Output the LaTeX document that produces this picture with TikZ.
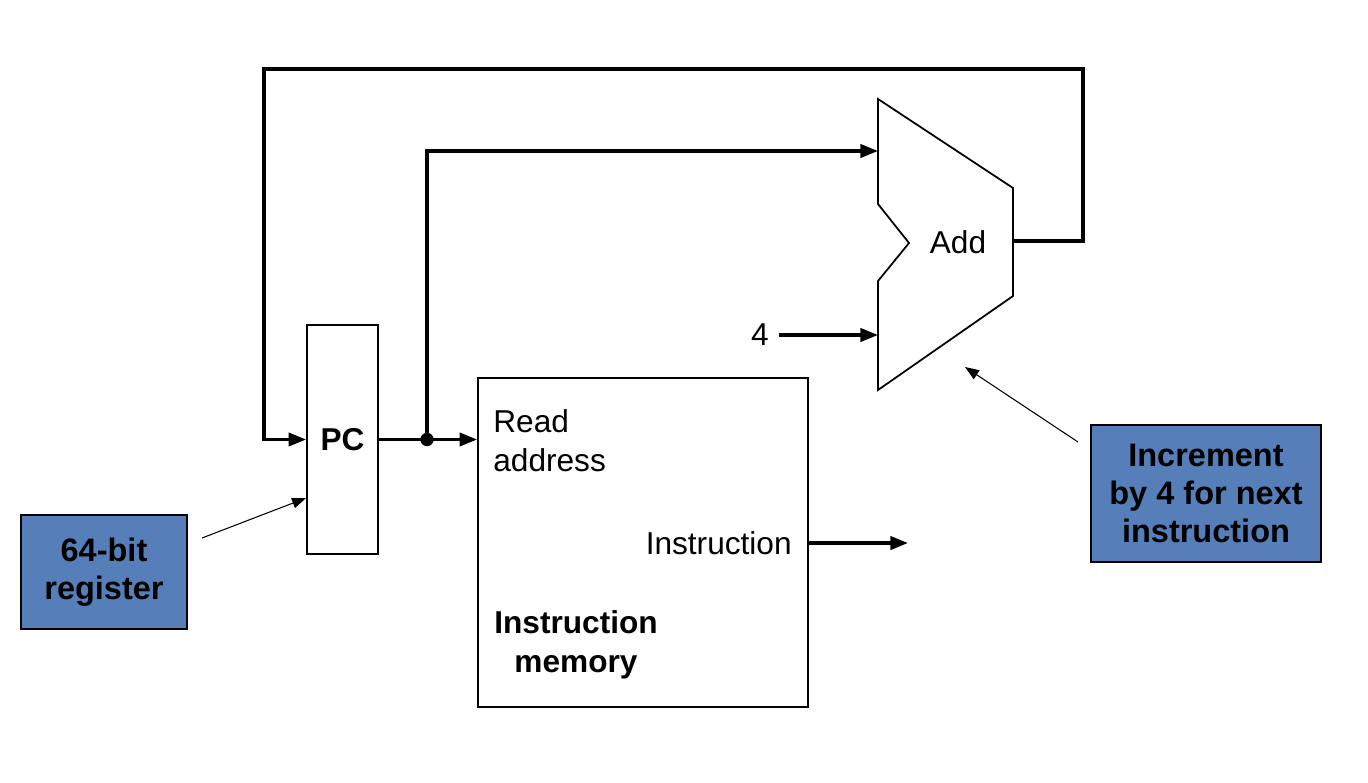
\documentclass[tikz,border=0pt]{standalone}
\usepackage{fontspec}
\setmainfont{Liberation Sans}
\usetikzlibrary{arrows.meta, calc, positioning}
\definecolor{noteblue}{RGB}{86,127,186}

\begin{document}
\begin{tikzpicture}[x=0.02cm, y=-0.02cm,
                    font=\fontsize{18}{22}\selectfont,
                    my wire/.style={line width=1.9pt},
                    my arrow/.style={
                      my wire, -{Triangle[length=10pt, width=7.5pt]}},
                    my unit/.style={draw, line width=1pt, inner sep=0},
                    my note/.style={
                      draw, line width=0.8pt, fill=noteblue, align=center,
                      font=\fontsize{18.5}{21.5}\selectfont\bfseries},
                    my pointer/.style={
                      line width=0.6pt, -{Triangle[length=8pt, width=6pt]}}]

\useasboundingbox (0,0) rectangle (1368,782);

% registre et memoire
\node[my unit, minimum width=1.42cm, minimum height=4.58cm]
  (pc) at (342.5,439.5) {\bfseries PC};
\node[my unit, minimum width=6.6cm, minimum height=6.58cm]
  (imem) at (643,542.5) {};
\node[anchor=west, align=left, inner sep=0] (rdaddr) at (493,441)
  {Read\\address};
\node[anchor=east, inner sep=0] (instout) at (792,543) {Instruction};
\node[align=center, inner sep=0, font=\fontsize{18}{22}\selectfont\bfseries]
  (imemlbl) at (576,645) {Instruction\\memory};

% additionneur
\draw[line width=1pt]
  (878,99) -- (1013,188) -- (1013,296) -- (878,390) --
  (878,281) -- (909,243) -- (878,204) -- cycle;
\node (add) at (958,242) {Add};
\coordinate (addA) at (878,151);
\coordinate (addB) at (878,335);
\coordinate (addout) at (1013,241);
\node[anchor=east, inner sep=0] (four) at (769,335) {4};

% fils
\coordinate (fork) at (427,439.5);
\coordinate (loopne) at (1083,69);
\coordinate (loopw) at (264,439.5);
\coordinate (iout) at (908,543);

\draw[my arrow] (pc.east) -- (pc.east -| imem.west);
\fill (fork) circle (3.8pt);
\draw[my arrow] (fork) |- (addA);
\draw[my arrow] ([xshift=0.2cm]four.east) -- (addB);
\draw[my arrow] (addout) -| (loopne) -| (loopw) -- (pc.west);
\draw[my arrow] (imem.east |- iout) -- (iout);

% notes
\node[my note, minimum width=3.32cm, minimum height=2.28cm]
  (regnote) at (104,572) {64-bit\\register};
\node[my note, minimum width=4.6cm, minimum height=2.74cm]
  (incnote) at (1206,493.5) {Increment\\by 4 for next\\instruction};

\coordinate (regtail) at (202,538);
\coordinate (inctail) at (1078,442);
\coordinate (inctip) at (965,367);
\draw[my pointer] (regtail) -- ($(pc.west)+(0,58.5)$);
\draw[my pointer] (inctail) -- (inctip);
\end{tikzpicture}
\end{document}
